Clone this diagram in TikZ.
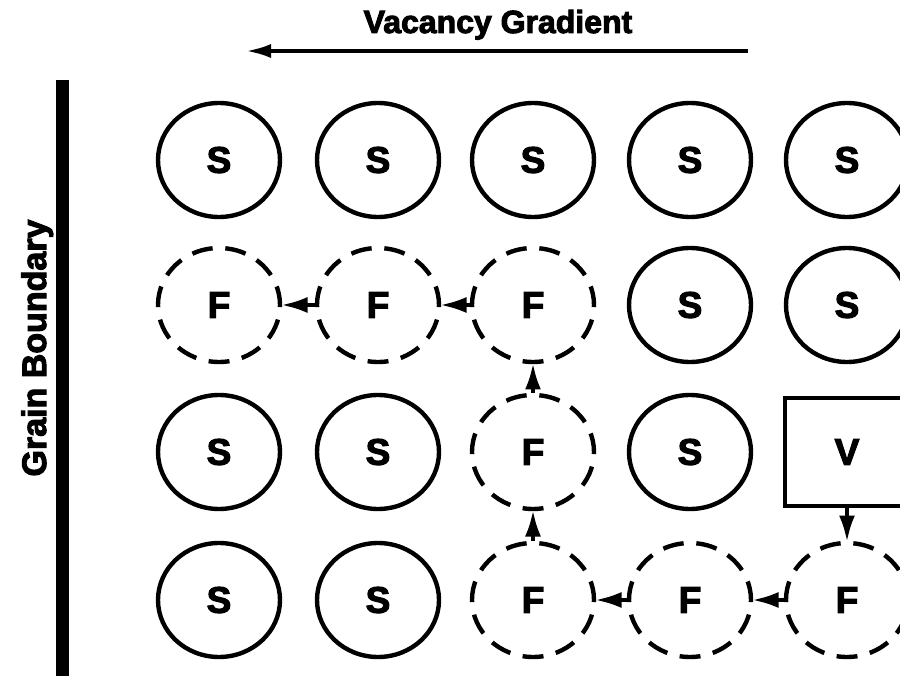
\documentclass[tikz,border=0pt]{standalone}
\usepackage{fontspec}
\setmainfont{Liberation Sans}[BoldFont={Liberation Sans Bold}, BoldFeatures={FakeBold=3}]
\usetikzlibrary{arrows.meta,shapes.geometric}

\tikzset{
  atom/.style={ellipse, minimum width=122pt, minimum height=114pt,
    inner sep=0pt, outer sep=0pt, font=\fontsize{37}{42}\selectfont\bfseries},
  solidatom/.style={atom, draw, line width=4.4pt},
  fdash/.style={line width=4.4pt, dash pattern=on 21pt off 12.71pt, dash phase=10.5pt},
  flow/.style={-{Latex[length=26pt,width=16pt]}, line width=3.4pt,
    shorten <=2.2pt, shorten >=1.5pt},
  gradarrow/.style={-{Latex[length=26pt,width=14pt]}, line width=4.4pt},
  title/.style={anchor=base, font=\fontsize{32}{38}\selectfont\bfseries},
}
\newcommand{\atomlabel}[1]{\raisebox{-6pt}{#1}}

\begin{document}
\begin{tikzpicture}[x=1pt, y=-1pt]
  \useasboundingbox (0,0) rectangle (900,676);

  % Vacancy gradient label and arrow
  \node[title] (vg) at (498,33) {Vacancy Gradient};
  \coordinate (gs) at (748,51);
  \coordinate (ge) at (245,51);
  \draw[gradarrow] (gs) -- (ge);

  % Grain boundary
  \coordinate (bt) at (62,80);
  \coordinate (bb) at (62,680);
  \draw[line width=13pt] (bt) -- (bb);
  \node[title, rotate=90, font=\fontsize{34}{40}\selectfont\bfseries] (gb) at (46,348) {Grain Boundary};

  % Row 1
  \node[solidatom] (s11) at (219,160) {\atomlabel{S}};
  \node[solidatom] (s12) at (378,160) {\atomlabel{S}};
  \node[solidatom] (s13) at (533,160) {\atomlabel{S}};
  \node[solidatom] (s14) at (690,160) {\atomlabel{S}};
  \node[solidatom] (s15) at (847,160) {\atomlabel{S}};

  % Row 2
  \node[atom] (f21) at (219,305) {\atomlabel{F}};
  \node[atom] (f22) at (378,305) {\atomlabel{F}};
  \node[atom] (f23) at (533,305) {\atomlabel{F}};
  \node[solidatom] (s24) at (690,305) {\atomlabel{S}};
  \node[solidatom] (s25) at (847,305) {\atomlabel{S}};

  % Row 3
  \node[solidatom] (s31) at (219,452) {\atomlabel{S}};
  \node[solidatom] (s32) at (378,452) {\atomlabel{S}};
  \node[atom] (f33) at (533,452) {\atomlabel{F}};
  \node[solidatom] (s34) at (690,452) {\atomlabel{S}};
  \node[draw, line width=4.4pt, minimum width=124pt, minimum height=108pt,
        inner sep=0pt, outer sep=0pt, font=\fontsize{37}{42}\selectfont\bfseries]
        (v35) at (847,452) {\raisebox{-8pt}{V}};

  % Row 4
  \node[solidatom] (s41) at (219,600) {\atomlabel{S}};
  \node[solidatom] (s42) at (378,600) {\atomlabel{S}};
  \node[atom] (f43) at (533,600) {\atomlabel{F}};
  \node[atom] (f44) at (690,600) {\atomlabel{F}};
  \node[atom] (f45) at (847,600) {\atomlabel{F}};

  % Dashed outlines of the F sites
  \foreach \n in {f21,f22,f23,f33,f43,f44,f45}
    \draw[fdash] (\n.south) arc[start angle=270, delta angle=360,
                                x radius=61pt, y radius=57pt];

  % Atom flow path
  \draw[flow] (v35) -- (f45);
  \draw[flow] (f45) -- (f44);
  \draw[flow] (f44) -- (f43);
  \draw[flow] (f43) -- (f33);
  \draw[flow] (f33) -- (f23);
  \draw[flow] (f23) -- (f22);
  \draw[flow] (f22) -- (f21);
\end{tikzpicture}
\end{document}
